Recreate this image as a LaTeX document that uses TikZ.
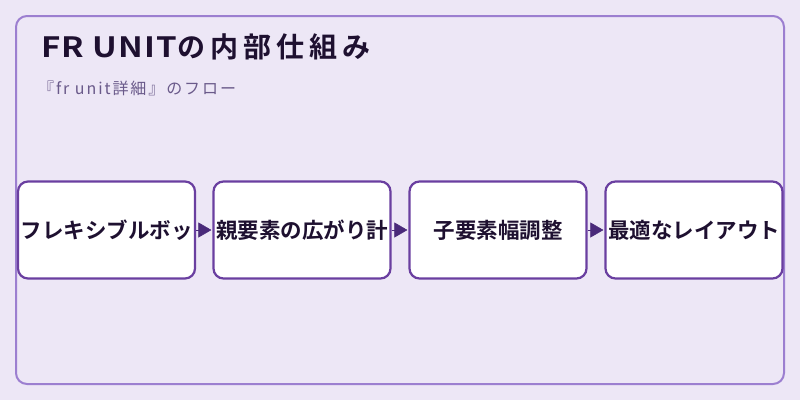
\documentclass[tikz,border=0pt]{standalone}
\usepackage{fontspec}
\setmainfont{Noto Sans CJK JP}
\newfontfamily\jpbold{Noto Sans CJK JP Bold}
\newfontfamily\titlelatin[FakeStretch=1.18,LetterSpace=4]{Noto Sans CJK JP Bold}
\newfontfamily\titlecjk[LetterSpace=18]{Noto Sans CJK JP Bold}
\newfontfamily\subfont[LetterSpace=12]{Noto Sans CJK JP}
\usetikzlibrary{arrows.meta}
\definecolor{bgc}{HTML}{EDE7F6}
\definecolor{outerc}{HTML}{9C7FD0}
\definecolor{boxc}{HTML}{6A3FA0}
\definecolor{txtc}{HTML}{1E1030}
\definecolor{subc}{HTML}{6A5A8A}
\definecolor{arrc}{HTML}{4A2A7A}
\tikzset{
  stepbox/.style={draw=boxc, line width=2.2pt, fill=white, rounded corners=10pt,
    minimum width=177pt, minimum height=97pt, inner sep=0pt,
    font=\jpbold\fontsize{21.5}{26}\selectfont, text=txtc},
  flowarrow/.style={draw=arrc, line width=0.5pt, -{Triangle[length=13pt,width=15pt]}, fill=arrc, shorten >=1pt}
}
\begin{document}
\begin{tikzpicture}[x=1pt,y=-1pt]
\useasboundingbox (0,0) rectangle (800,400);
\fill[bgc] (0,0) rectangle (800,400);
\draw[outerc, line width=2pt, rounded corners=11pt] (16,16) rectangle (784,384);
\node[anchor=base west, text=txtc, font=\fontsize{28}{32}\selectfont, inner sep=0pt] (title) at (41,57) {{\titlelatin FR UNIT}{\titlecjk の内部仕組み}};
\node[anchor=base west, text=subc, font=\subfont\fontsize{16}{19}\selectfont, inner sep=0pt] (sub) at (38,94) {『fr unit詳細』のフロー};
\node[stepbox] (b1) at (106.5,230) {フレキシブルボッ};
\node[stepbox] (b2) at (302,230) {親要素の広がり計};
\node[stepbox] (b3) at (498,230) {子要素幅調整};
\node[stepbox] (b4) at (694,230) {最適なレイアウト};
\draw[flowarrow] (b1.east) -- (b2.west);
\draw[flowarrow] (b2.east) -- (b3.west);
\draw[flowarrow] (b3.east) -- (b4.west);
\end{tikzpicture}
\end{document}
